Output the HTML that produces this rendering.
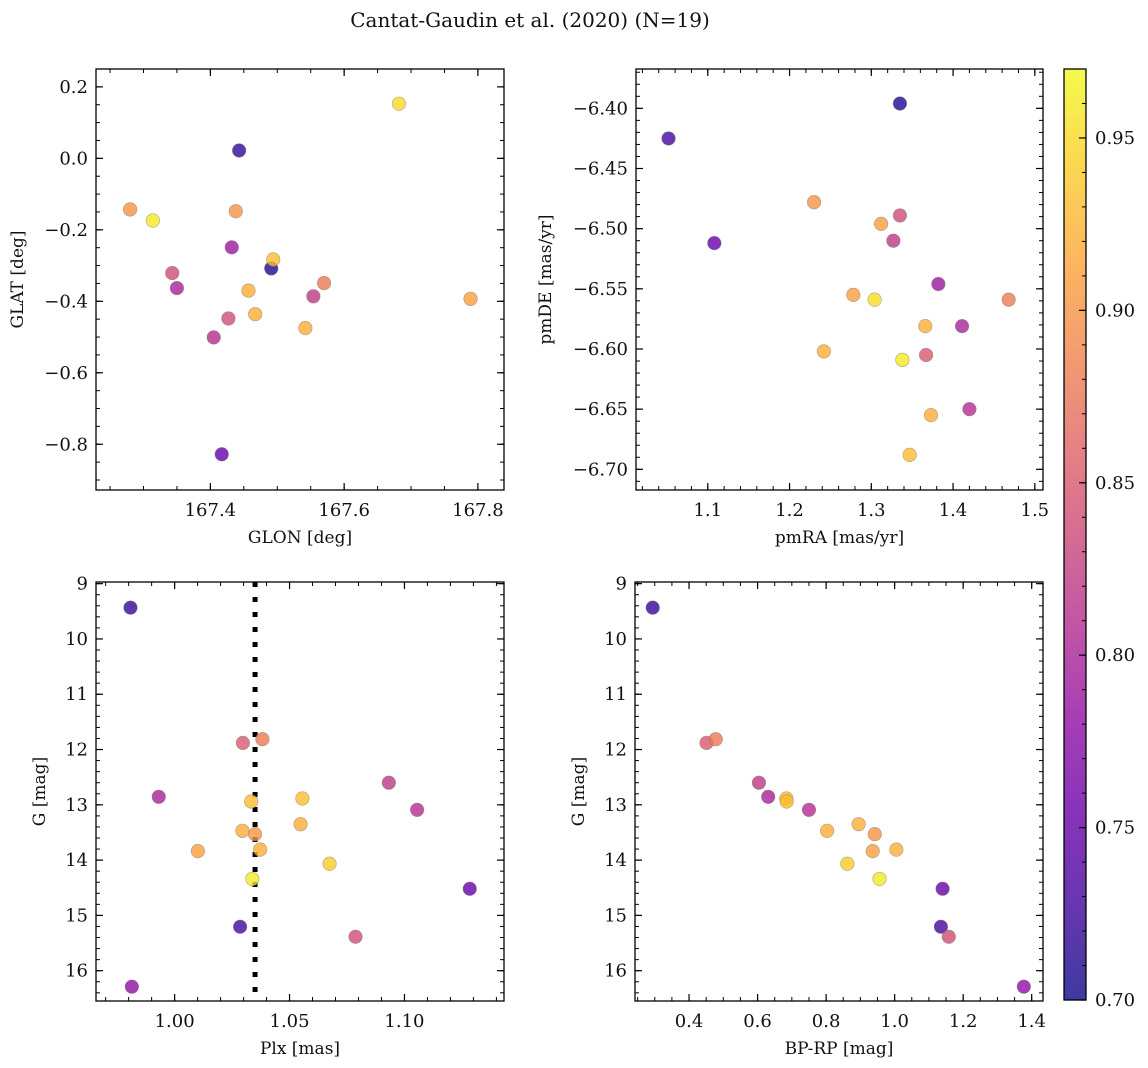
<!DOCTYPE html>
<html><head><meta charset="utf-8">
<style>
html,body{margin:0;padding:0;background:#fff;}
svg{display:block;font-family:"DejaVu Serif","Liberation Serif",serif;}
</style></head>
<body>
<svg id="fig" width="1148" height="1068" viewBox="0 0 1148 1068" xmlns="http://www.w3.org/2000/svg">
<text x="530" y="27" font-size="20" text-anchor="middle" fill="#111">Cantat-Gaudin et al. (2020) (N=19)</text>
</svg>
<script>
// ---- Panel 1: GLON vs GLAT ----
const glon = [167.280,167.314,167.343,167.350,167.405,167.417,167.427,167.432,167.438,167.443,167.457,167.467,167.491,167.494,167.542,167.554,167.570,167.682,167.789];
const glat = [-0.143,-0.174,-0.321,-0.363,-0.501,-0.828,-0.448,-0.249,-0.148,0.022,-0.370,-0.436,-0.308,-0.283,-0.475,-0.386,-0.349,0.153,-0.393];
const c1   = [0.90,0.96,0.84,0.80,0.81,0.75,0.84,0.79,0.90,0.72,0.92,0.92,0.71,0.93,0.92,0.82,0.88,0.95,0.91];
// ---- Panel 2: pmRA vs pmDE ----
const pmra = [1.052,1.108,1.230,1.242,1.278,1.304,1.312,1.327,1.335,1.335,1.338,1.347,1.366,1.367,1.373,1.382,1.411,1.420,1.468];
const pmde = [-6.425,-6.512,-6.478,-6.602,-6.555,-6.559,-6.496,-6.510,-6.396,-6.489,-6.609,-6.688,-6.581,-6.605,-6.655,-6.546,-6.581,-6.650,-6.559];
const c2   = [0.73,0.75,0.90,0.92,0.91,0.95,0.91,0.82,0.71,0.84,0.96,0.93,0.92,0.85,0.92,0.79,0.80,0.81,0.88];
// ---- Panel 3: Plx vs G ----
const plx  = [0.9808,0.9931,1.0101,1.0297,1.0382,1.0333,1.0295,1.0350,1.0372,1.0338,1.0285,0.9814,1.0556,1.0548,1.0674,1.0787,1.0932,1.1055,1.1284];
const g3   = [9.434,12.855,13.837,11.880,11.813,12.94,13.47,13.53,13.81,14.34,15.205,16.289,12.886,13.35,14.066,15.386,12.60,13.09,14.518];
const c3   = [0.72,0.80,0.91,0.85,0.88,0.93,0.92,0.90,0.92,0.96,0.73,0.78,0.93,0.92,0.94,0.84,0.82,0.81,0.75];
const plxLine = [1.035];
// ---- Panel 4: BP-RP vs G ----
const bprp = [0.294,0.451,0.478,0.604,0.631,0.684,0.685,0.750,0.803,0.895,0.942,0.936,1.005,0.862,0.956,1.140,1.135,1.158,1.377];
const g4   = [9.434,11.88,11.813,12.60,12.855,12.886,12.94,13.09,13.47,13.35,13.53,13.837,13.81,14.066,14.34,14.518,15.205,15.386,16.289];
const c4   = [0.72,0.85,0.88,0.82,0.80,0.93,0.93,0.81,0.92,0.92,0.90,0.91,0.92,0.94,0.96,0.75,0.73,0.84,0.78];
// tick labels
const ticks1x = [167.4,167.6,167.8], ticks1y = [0.2,0.0,-0.2,-0.4,-0.6,-0.8];
const ticks2x = [1.1,1.2,1.3,1.4,1.5], ticks2y = [-6.40,-6.45,-6.50,-6.55,-6.60,-6.65,-6.70];
const ticks3x = [1.00,1.05,1.10], ticksGy = [9,10,11,12,13,14,15,16];
const ticks4x = [0.4,0.6,0.8,1.0,1.2,1.4];
const cbTicks = [0.70,0.75,0.80,0.85,0.90,0.95];
const cMin = 0.70, cMax = 0.97;

const NS = "http://www.w3.org/2000/svg";
const fig = document.getElementById('fig');
function el(tag, attrs, parent){ const e=document.createElementNS(NS,tag); for(const k in attrs) e.setAttribute(k,attrs[k]); (parent||fig).appendChild(e); return e; }
const stops = ["#0d0887","#41049d","#6a00a8","#8f0da4","#b12a90","#cc4778","#e16462","#f2844b","#fca636","#fcce25","#f0f921"];
function hex(h){return [1,3,5].map(i=>parseInt(h.substr(i,2),16));}
function plasma(t){ t=Math.max(0,Math.min(1,t)); const p=t*10, i=Math.min(9,Math.floor(p)), f=p-i; const a=hex(stops[i]), b=hex(stops[i+1]); return 'rgb('+a.map((v,k)=>Math.round(v+(b[k]-v)*f)).join(',')+')'; }
function cnorm(c){return (c-cMin)/(cMax-cMin);}
function fmt(v,d){ const s=v.toFixed(d); return s.replace('-','\u2212'); }

function panel(o){
  const g = el('g',{});
  
  
  const X = v => o.L + (v-o.x0)/(o.x1-o.x0)*(o.R-o.L);
  const Y = v => o.B - (v-o.y0)/(o.y1-o.y0)*(o.B-o.T);
  const eps=1e-9;
  for(let v=Math.ceil(o.x0/o.xm-eps)*o.xm; v<=o.x1+eps; v+=o.xm){ const px=X(v); if(px<o.L+0.5||px>o.R-0.5) continue;
    el('line',{x1:px,x2:px,y1:o.B,y2:o.B-4,stroke:'#000','stroke-width':1},g); el('line',{x1:px,x2:px,y1:o.T,y2:o.T+4,stroke:'#000','stroke-width':1},g); }
  const ylo=Math.min(o.y0,o.y1), yhi=Math.max(o.y0,o.y1);
  for(let v=Math.ceil(ylo/o.ym-eps)*o.ym; v<=yhi+eps; v+=o.ym){ const py=Y(v); if(py<o.T+0.5||py>o.B-0.5) continue;
    el('line',{x1:o.L,x2:o.L+4,y1:py,y2:py,stroke:'#000','stroke-width':1},g); el('line',{x1:o.R,x2:o.R-4,y1:py,y2:py,stroke:'#000','stroke-width':1},g); }
  o.xt.forEach(v=>{ const px=X(v);
    el('line',{x1:px,x2:px,y1:o.B,y2:o.B-7,stroke:'#000','stroke-width':1.2},g); el('line',{x1:px,x2:px,y1:o.T,y2:o.T+7,stroke:'#000','stroke-width':1.2},g);
    const t=el('text',{x:px,y:o.B+26,'font-size':18,'text-anchor':'middle',fill:'#111'},g); t.textContent=fmt(v,o.xd);
    
     });
  o.yt.forEach(v=>{ const py=Y(v);
    el('line',{x1:o.L,x2:o.L+7,y1:py,y2:py,stroke:'#000','stroke-width':1.2},g); el('line',{x1:o.R,x2:o.R-7,y1:py,y2:py,stroke:'#000','stroke-width':1.2},g);
    const t=el('text',{x:o.L-8,y:py+6,'font-size':18,'text-anchor':'end',fill:'#111'},g); t.textContent=fmt(v,o.yd);
    
     });
  if(o.vline){ o.vline.forEach(v=>{ const l=el('line',{x1:X(v),x2:X(v),y1:o.T,y2:o.B,stroke:'#000','stroke-width':5,'stroke-dasharray':'5,10'},g);
    
     }); }
  for(let i=0;i<o.xs.length;i++){
    const c=el('circle',{cx:X(o.xs[i]),cy:Y(o.ys[i]),r:6.8,fill:plasma(cnorm(o.cs[i])),'fill-opacity':0.8,stroke:'#777','stroke-opacity':0.6,'stroke-width':0.6},g);
    
    
  }
  const fr=el('rect',{x:o.L,y:o.T,width:o.R-o.L,height:o.B-o.T,fill:'none',stroke:'#000','stroke-width':1.3},g);
  
  
  const xl=el('text',{x:(o.L+o.R)/2,y:o.B+53,'font-size':17,'text-anchor':'middle',fill:'#111'},g); xl.textContent=o.xlabel;
  
  
  const yl=el('text',{x:0,y:0,'font-size':17,'text-anchor':'middle',fill:'#111',transform:'translate('+o.ylx+','+((o.T+o.B)/2)+') rotate(-90)'},g); yl.textContent=o.ylabel;
  
  
}
panel({name:'glon-glat-panel',L:96,R:504,T:69,B:490,x0:167.229,x1:167.839,y0:-0.928,y1:0.250,xm:0.05,ym:0.05,xt:ticks1x,yt:ticks1y,xd:1,yd:1,xs:glon,ys:glat,cs:c1,xlabel:'GLON [deg]',ylabel:'GLAT [deg]',ylx:23});
panel({name:'pm-panel',L:636,R:1043,T:69,B:490,x0:1.0122,x1:1.510,y0:-6.7172,y1:-6.3673,xm:0.02,ym:0.01,xt:ticks2x,yt:ticks2y,xd:1,yd:2,xs:pmra,ys:pmde,cs:c2,xlabel:'pmRA [mas/yr]',ylabel:'pmDE [mas/yr]',ylx:551});
panel({name:'plx-g-panel',L:96,R:504,T:582,B:1001,x0:0.9658,x1:1.1433,y0:16.548,y1:8.97,xm:0.01,ym:0.2,xt:ticks3x,yt:ticksGy,xd:2,yd:0,xs:plx,ys:g3,cs:c3,vline:plxLine,xlabel:'Plx [mas]',ylabel:'G [mag]',ylx:45});
panel({name:'cmd-panel',L:635,R:1043,T:582,B:1001,x0:0.2423,x1:1.433,y0:16.548,y1:8.97,xm:0.05,ym:0.2,xt:ticks4x,yt:ticksGy,xd:1,yd:0,xs:bprp,ys:g4,cs:c4,xlabel:'BP-RP [mag]',ylabel:'G [mag]',ylx:584});

// ---- Colorbar ----
const cb = el('g',{});


const defs=el('defs',{},cb);
const grad=el('linearGradient',{id:'pl',x1:0,y1:1,x2:0,y2:0},defs);
for(let i=0;i<=20;i++){ el('stop',{offset:i/20,'stop-color':plasma(i/20),'stop-opacity':0.8},grad); }
const CL=1064,CR=1086,CT=69,CB=1000;
el('rect',{x:CL,y:CT,width:CR-CL,height:CB-CT,fill:'url(#pl)'},cb);
const CY=v=>CB-(v-cMin)/(cMax-cMin)*(CB-CT);
for(let k=70;k<=97;k++){ const v=k/100, py=CY(v); if(py<CT+0.5||py>CB-0.5) continue; el('line',{x1:CR,x2:CR-4,y1:py,y2:py,stroke:'#000','stroke-width':1},cb); }
cbTicks.forEach(v=>{ const py=CY(v); el('line',{x1:CR,x2:CR-7,y1:py,y2:py,stroke:'#000','stroke-width':1.2},cb);
  const t=el('text',{x:CR+9,y:py+6,'font-size':18,fill:'#111'},cb); t.textContent=v.toFixed(2);
  
   });
el('rect',{x:CL,y:CT,width:CR-CL,height:CB-CT,fill:'none',stroke:'#000','stroke-width':1.3},cb);
</script>
</body></html>
